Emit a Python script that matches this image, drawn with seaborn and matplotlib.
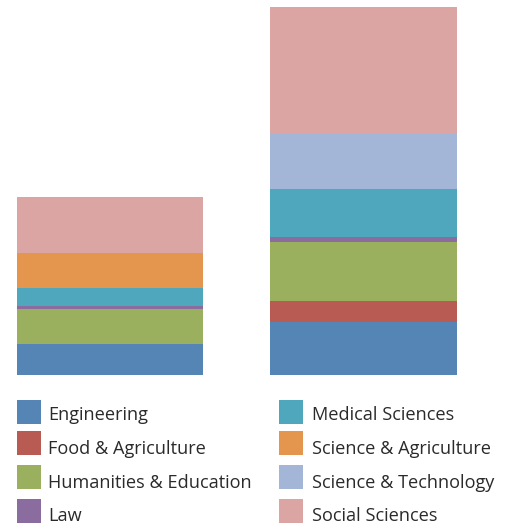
import matplotlib
matplotlib.use("Agg")
import matplotlib.pyplot as plt
from matplotlib.patches import Rectangle
import seaborn as sns
import pandas as pd
import numpy as np

groups = ["Group A", "Group B"]
fields = ["Engineering", "Food & Agriculture", "Humanities & Education", "Law",
          "Medical Sciences", "Science & Agriculture", "Science & Technology",
          "Social Sciences"]
engineering = [31, 53]
food_agri = [0, 21]
humanities = [35, 59]
law = [3, 5]
medical = [18, 48]
sci_agri = [35, 0]
sci_tech = [0, 56]
social = [56, 126]
series = [engineering, food_agri, humanities, law, medical, sci_agri, sci_tech, social]
colors = ["#5585b5", "#b85c53", "#9bb05e", "#8a6d9e", "#4fa7bd", "#e4964f",
          "#a3b6d7", "#dba5a3"]

sns.set_style("white")
plt.rcParams["font.family"] = ["Open Sans", "DejaVu Sans"]

W, H = 516, 527
fig = plt.figure(figsize=(W / 100, H / 100), dpi=100)
ax = fig.add_axes([0, (H - 375) / H, 1, 368 / H])

vals = np.array(series, dtype=float)
cum = np.cumsum(vals, axis=0)
for i in range(len(fields) - 1, -1, -1):
    df = pd.DataFrame({"group": groups, "value": cum[i]})
    sns.barplot(data=df, x="group", y="value", order=groups, color=colors[i],
                saturation=1, width=0.735, ax=ax, linewidth=0, errorbar=None)

ax.set_xlim(-0.433, 1.600)
ax.set_ylim(0, 368)
ax.axis("off")

# legend
col_x = [17, 279]
text_x = [48.5, 312.5]
tops = [400, 431, 465, 499]
baselines = [419.5, 453.5, 487.5, 521]
for k, name in enumerate(fields):
    c, r = divmod(k, 4)
    x0 = col_x[c]
    y0 = tops[r]
    fig.patches.append(Rectangle((x0 / W, 1 - (y0 + 24) / H), 24 / W, 24 / H,
                                 transform=fig.transFigure, color=colors[k],
                                 linewidth=0))
    fig.text(text_x[c] / W, 1 - baselines[r] / H, name, fontsize=13.1,
             color="#2a2a2a", va="baseline", ha="left")

fig.savefig("out.png", dpi=100)
